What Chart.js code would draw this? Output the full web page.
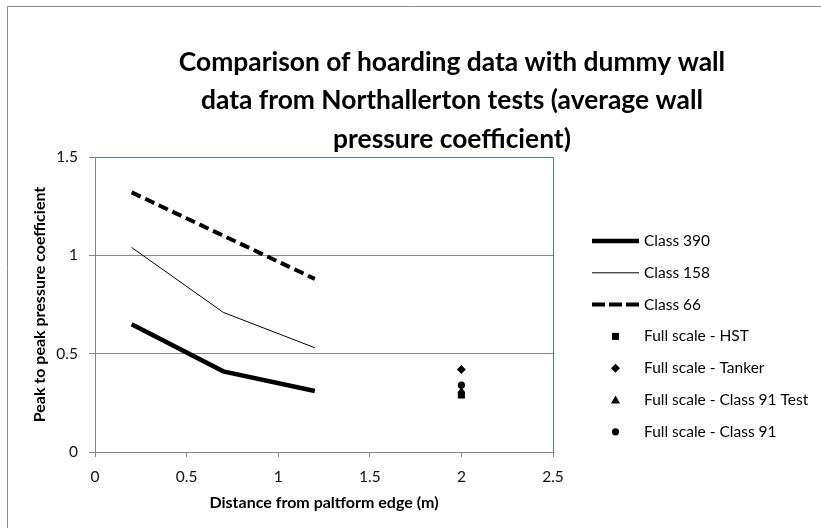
<!DOCTYPE html>
<html>
<head>
<meta charset="UTF-8">
<title>Northallerton hoarding comparison</title>
<script src="https://cdn.jsdelivr.net/npm/chart.js@4.4.1/dist/chart.umd.min.js"></script>
<style>
  body { margin: 0; background: #fff; }
</style>
</head>
<body>
<canvas id="myChart" width="821" height="528"></canvas>

<script>
  // data
  const distance = [0.2, 0.7, 1.2];
  const class390 = [0.65, 0.41, 0.31];
  const class158 = [1.04, 0.71, 0.53];
  const class66 = [1.32, 1.10, 0.88];

  const fullScaleX = [2];
  const fullHST = [0.29];
  const fullTanker = [0.42];
  const fullClass91Test = [0.31];
  const fullClass91 = [0.34];

  const titleLines = ['Comparison of hoarding data with dummy wall',
                      'data from Northallerton tests (average wall',
                      'pressure coefficient)'];

  const pts = (xs, ys) => xs.map((x, i) => ({ x: x, y: ys[i] }));

  const FONT = 'Lato, "Liberation Sans", sans-serif';

  // border round the whole chart (left and top only are in frame) + title
  const framePlugin = {
    id: 'frame',
    beforeDraw(chart) {
      const ctx = chart.ctx;
      ctx.save();
      ctx.fillStyle = '#fff';
      ctx.fillRect(0, 0, chart.width, chart.height);
      ctx.strokeStyle = '#8c8c8c';
      ctx.lineWidth = 1;
      ctx.beginPath();
      ctx.moveTo(7.5, chart.height);
      ctx.lineTo(7.5, 6.5);
      ctx.lineTo(chart.width, 6.5);
      ctx.stroke();

      // title sits off-centre in the excel original, so it is drawn here
      ctx.fillStyle = '#000';
      ctx.font = 'bold 26.4px ' + FONT;
      ctx.textAlign = 'center';
      ctx.textBaseline = 'middle';
      titleLines.forEach((t, i) => ctx.fillText(t, 452, 62 + i * 38.5));
      ctx.restore();
    },
    afterDatasetsDraw(chart) {
      // blue plot-area border on top and right
      const a = chart.chartArea, ctx = chart.ctx;
      ctx.save();
      ctx.strokeStyle = '#4a7ebb';
      ctx.lineWidth = 1;
      ctx.beginPath();
      ctx.moveTo(a.left, Math.round(a.top) + 0.5);
      ctx.lineTo(Math.round(a.right) + 0.5, Math.round(a.top) + 0.5);
      ctx.lineTo(Math.round(a.right) + 0.5, a.bottom);
      ctx.stroke();
      ctx.restore();
    }
  };

  // excel style legend on the right
  const legendPlugin = {
    id: 'sideLegend',
    afterDraw(chart) {
      const a = chart.chartArea, ctx = chart.ctx;
      const x0 = a.right + 39, x1 = a.right + 86, cx = (x0 + x1) / 2;
      ctx.save();
      ctx.font = '15.5px ' + FONT;
      ctx.textBaseline = 'middle';
      chart.data.datasets.forEach((ds, i) => {
        const y = a.top + 84 + i * 31.8;
        ctx.strokeStyle = '#000';
        ctx.fillStyle = '#000';
        if (ds.showLine) {
          ctx.lineWidth = ds.borderWidth;
          ctx.setLineDash(ds.borderDash.length ? [13, 4] : []);
          ctx.beginPath();
          ctx.moveTo(x0, y);
          ctx.lineTo(x1, y);
          ctx.stroke();
          ctx.setLineDash([]);
        } else {
          ctx.beginPath();
          if (ds.pointStyle === 'rect') {
            ctx.rect(cx - 3.5, y - 3.5, 7, 7);
          } else if (ds.pointStyle === 'rectRot') {
            ctx.moveTo(cx, y - 4.5); ctx.lineTo(cx + 4.5, y);
            ctx.lineTo(cx, y + 4.5); ctx.lineTo(cx - 4.5, y);
          } else if (ds.pointStyle === 'triangle') {
            ctx.moveTo(cx, y - 4.5); ctx.lineTo(cx + 4.5, y + 3.5);
            ctx.lineTo(cx - 4.5, y + 3.5);
          } else {
            ctx.arc(cx, y, 3.6, 0, Math.PI * 2);
          }
          ctx.closePath();
          ctx.fill();
        }
        ctx.fillStyle = '#000';
        ctx.fillText(ds.label, x1 + 5, y);
      });
      ctx.restore();
    }
  };

  const lineSet = (label, ys, width, dash) => ({
    label: label, data: pts(distance, ys), showLine: true,
    borderColor: '#000', backgroundColor: '#000', borderWidth: width,
    borderDash: dash, pointRadius: 0, pointHoverRadius: 0, tension: 0
  });
  const pointSet = (label, ys, style, r) => ({
    label: label, data: pts(fullScaleX, ys), showLine: false,
    pointStyle: style, pointRadius: r, pointHoverRadius: r,
    borderColor: '#000', backgroundColor: '#000', borderWidth: 0
  });

  const plain = v => String(v);

  new Chart('myChart', {
    type: 'scatter',
    data: {
      datasets: [
        lineSet('Class 390', class390, 4.5, []),
        lineSet('Class 158', class158, 1, []),
        lineSet('Class 66', class66, 4, [10, 5]),
        pointSet('Full scale - HST', fullHST, 'rect', 5),
        pointSet('Full scale - Tanker', fullTanker, 'rectRot', 4.5),
        pointSet('Full scale - Class 91 Test', fullClass91Test, 'triangle', 4.5),
        pointSet('Full scale - Class 91', fullClass91, 'circle', 3.6)
      ]
    },
    options: {
      responsive: false,
      devicePixelRatio: 1,
      animation: false,
      layout: { padding: { left: 8, right: 268, top: 157, bottom: 6 } },
      plugins: {
        legend: { display: false },
        tooltip: { enabled: false },
        title: { display: false }
      },
      scales: {
        x: {
          type: 'linear', min: 0, max: 2.5,
          afterFit(s) { s.height = 70; },
          ticks: { stepSize: 0.5, color: '#111', padding: 11, callback: plain,
                   font: { family: FONT, size: 15.5 } },
          grid: { drawOnChartArea: false, color: '#868686', tickLength: 5 },
          border: { color: '#868686' },
          title: {
            display: true, text: 'Distance from paltform edge (m)', color: '#000',
            font: { family: FONT, size: 16, weight: 'bold' }, padding: { top: 0, bottom: 10 }
          }
        },
        y: {
          type: 'linear', min: 0, max: 1.5,
          afterFit(s) { s.width = 87; },
          ticks: { stepSize: 0.5, color: '#111', padding: 11, callback: plain,
                   font: { family: FONT, size: 15.5 } },
          grid: { color: '#868686', tickLength: 6 },
          border: { color: '#868686' },
          title: {
            display: true, text: 'Peak to peak pressure coefficient', color: '#000',
            font: { family: FONT, size: 16, weight: 'bold' }, padding: { top: 22, bottom: 0 }
          }
        }
      }
    },
    plugins: [framePlugin, legendPlugin]
  });
</script>
</body>
</html>
